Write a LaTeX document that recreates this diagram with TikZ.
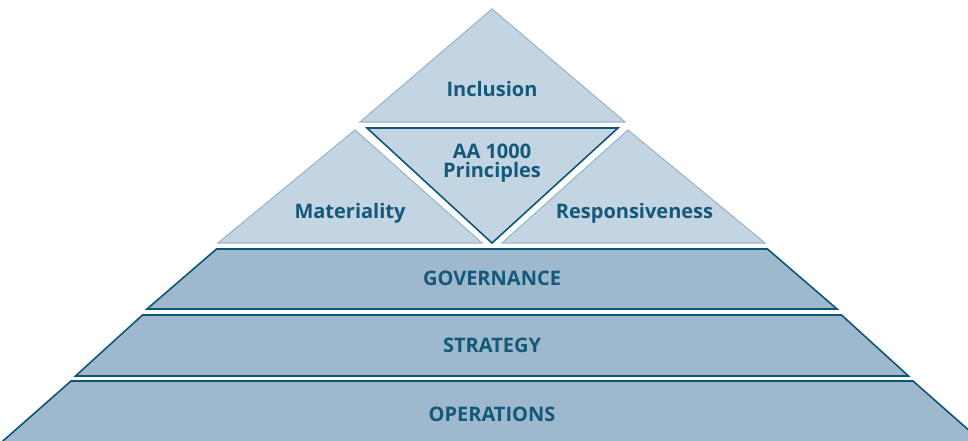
\documentclass[tikz,border=0pt]{standalone}
\usepackage{fontspec}
\setmainfont{Open Sans}
\definecolor{bandfill}{HTML}{9EB8CD}
\definecolor{trifill}{HTML}{C3D4E3}
\definecolor{triline}{HTML}{A0B8CC}
\definecolor{darkline}{HTML}{0E5678}
\definecolor{labeltext}{HTML}{15587A}

\begin{document}
\begin{tikzpicture}[x=1pt,y=-1pt,
	band/.style={fill=bandfill,draw=darkline,line width=1.6pt},
	tri/.style={fill=trifill,draw=triline,line width=1.2pt},
	lbl/.style={text=labeltext,font=\bfseries\fontsize{20}{19}\selectfont,inner sep=0pt,anchor=base,align=center}]
\useasboundingbox (0,0) rectangle (968,441);
\clip (0,0) rectangle (968,441);
% the three bands
\begin{scope}[xshift=492pt]
	\coordinate (GTL) at (-275.5,249);
	\coordinate (GTR) at (275.5,249);
	\coordinate (GBR) at (345,309);
	\coordinate (GBL) at (-345,309);
	\draw[band] (GTL)--(GTR)--(GBR)--(GBL)--cycle;
	\coordinate (STL) at (-349.5,315);
	\coordinate (STR) at (349.5,315);
	\coordinate (SBR) at (416.5,376);
	\coordinate (SBL) at (-416.5,376);
	\draw[band] (STL)--(STR)--(SBR)--(SBL)--cycle;
	\coordinate (OTL) at (-421,381);
	\coordinate (OTR) at (421,381);
	\coordinate (OBR) at (497,448);
	\coordinate (OBL) at (-497,448);
	\draw[band] (OTL)--(OTR)--(OBR)--(OBL)--cycle;
	\node[lbl] (gov) at (0,285) {GOVERNANCE};
	\node[lbl] (str) at (0,352.5) {STRATEGY};
	\node[lbl] (ops) at (0,421) {OPERATIONS};
\end{scope}
% the four triangles
\coordinate (I) at (492,9);
\coordinate (IL) at (360,122);
\coordinate (IR) at (625,122);
\draw[tri] (I)--(IR)--(IL)--cycle;
\coordinate (M) at (355,130);
\coordinate (ML) at (218,243);
\coordinate (MR) at (482,243);
\draw[tri] (M)--(MR)--(ML)--cycle;
\coordinate (R) at (628,130);
\coordinate (RL) at (502,243);
\coordinate (RR) at (765,243);
\draw[tri] (R)--(RR)--(RL)--cycle;
\coordinate (P) at (492,243);
\coordinate (PL) at (367,128);
\coordinate (PR) at (618,128);
\draw[tri,draw=darkline,line width=1.6pt] (PL)--(PR)--(P)--cycle;
%\draw (P) node{$\bullet$};
\node[lbl] (incl) at (492,96.5) {Inclusion};
\node[lbl,anchor=center] (aa) at (492,163) {AA 1000\\Principles};
\node[lbl] (mat) at (350,218) {Materiality};
\node[lbl] (resp) at (634.5,218) {Responsiveness};
\end{tikzpicture}
\end{document}
